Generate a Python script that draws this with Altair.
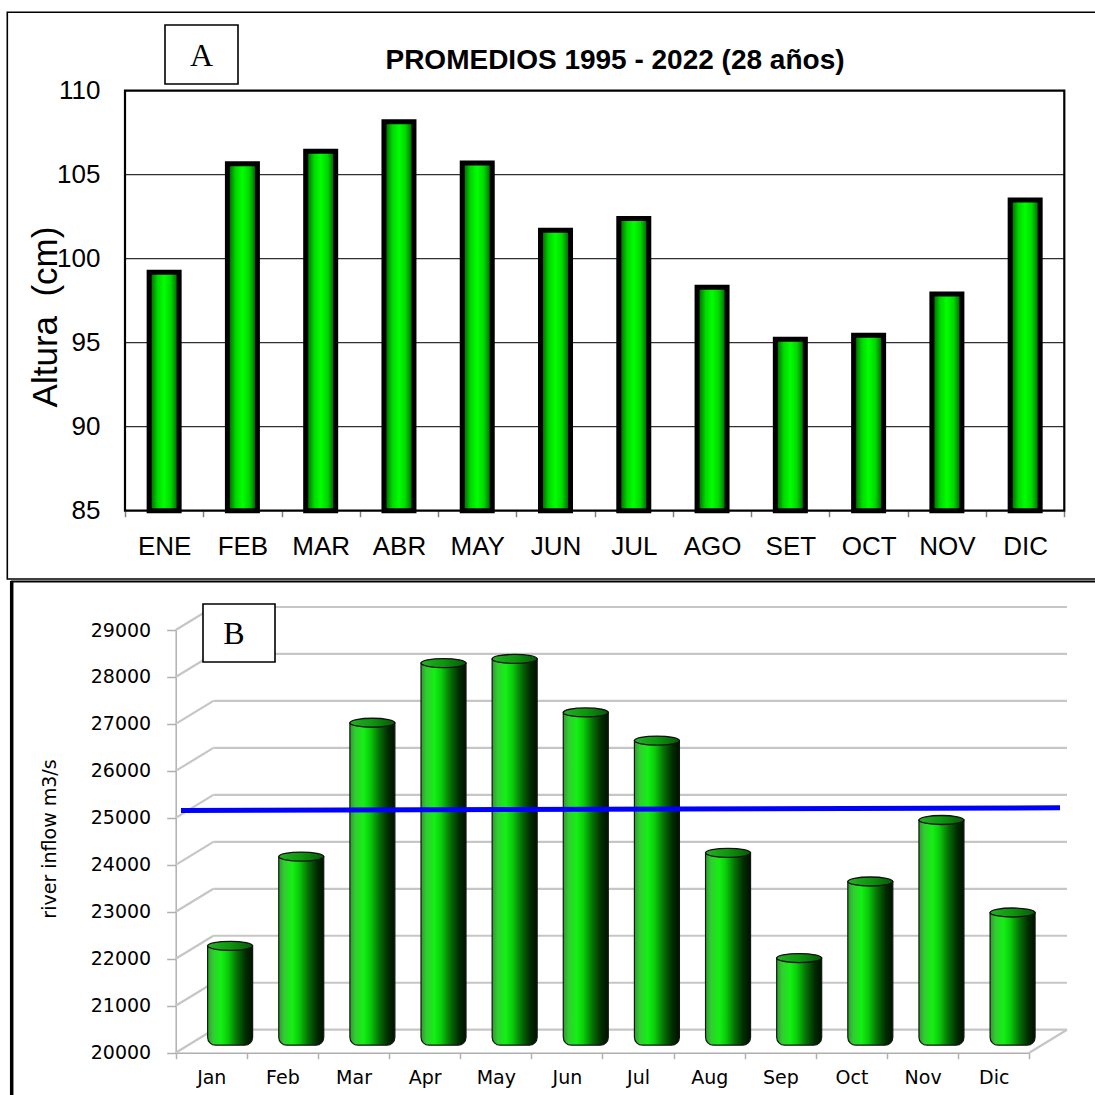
import altair as alt
import pandas as pd

# ---------------- data ----------------
meses_es = ["ENE", "FEB", "MAR", "ABR", "MAY", "JUN", "JUL", "AGO", "SET", "OCT", "NOV", "DIC"]
altura_cm = [99.2, 105.65, 106.4, 108.15, 105.7, 101.7, 102.4, 98.3, 95.2, 95.45, 97.9, 103.5]
ticks_a = [85, 90, 95, 100, 105, 110]
grid_a = [90, 95, 100, 105]

months_en = ["Jan", "Feb", "Mar", "Apr", "May", "Jun", "Jul", "Aug", "Sep", "Oct", "Nov", "Dic"]
inflow = [22030, 23930, 26780, 28050, 28140, 27000, 26400, 24010, 21770, 23400, 24710, 22740]
ticks_b = [20000, 21000, 22000, 23000, 24000, 25000, 26000, 27000, 28000, 29000]
mean_start, mean_end = [24910], [24970]

# ---------------- layout (pixels on the 1095 x 1095 canvas) ----------------
W = H = 1095
A_LEFT, A_RIGHT, A_TOP, A_BOTTOM = 125, 1064.3, 90.7, 510.7
B_LEFT, B_RIGHT, B_Y20, B_Y29 = 175.7, 1029.3, 1052.7, 630
DEPTH_X, DEPTH_Y = 37.7, -23.0  # offset of the back wall in the 3-D panel

SANS = "Liberation Sans"
SERIF = "Liberation Serif"
B_FONT = "DejaVu Sans"

# ---------------- panel A: 2-D bars ----------------
xA = alt.Scale(domain=meses_es, range=[A_LEFT, A_RIGHT], paddingInner=0, paddingOuter=0)
yA = alt.Scale(domain=[85, 110], range=[A_BOTTOM, A_TOP], nice=False, zero=False)
axA_x = alt.Axis(orient="bottom", offset=A_BOTTOM - H, title=None, labelAngle=0,
                 labelFont=SANS, labelFontSize=26, labelColor="black", labelPadding=17,
                 tickBand="extent", tickSize=6, tickColor="#808080", tickWidth=1.5,
                 domain=False, grid=False)
axA_y = alt.Axis(orient="left", offset=-A_LEFT, title=None, values=ticks_a,
                 labelFont=SANS, labelFontSize=26, labelColor="black", labelPadding=25,
                 ticks=False, domain=False, grid=False)

gradA = alt.LinearGradient(
    gradient="linear", x1=0, x2=1, y1=0, y2=0,
    stops=[alt.GradientStop(color="#004a00", offset=0),
           alt.GradientStop(color="#00d800", offset=0.28),
           alt.GradientStop(color="#00ff00", offset=0.5),
           alt.GradientStop(color="#00d800", offset=0.72),
           alt.GradientStop(color="#004a00", offset=1)])

dfA = pd.DataFrame({"mes": meses_es, "altura": altura_cm, "base": [85] * 12})
dfGridA = pd.DataFrame({"v": grid_a})

gridA = alt.Chart(dfGridA).mark_rule(color="#303030", strokeWidth=1.3).encode(
    y=alt.Y("v:Q", scale=yA, axis=axA_y),
    x=alt.value(A_LEFT), x2=alt.value(A_RIGHT))

barsA = alt.Chart(dfA).mark_bar(size=30, fill=gradA, stroke="black", strokeWidth=5).encode(
    x=alt.X("mes:N", scale=xA, axis=axA_x),
    y=alt.Y("altura:Q", scale=yA, axis=axA_y),
    y2="base:Q")

panelA = alt.layer(gridA, barsA)

# ---------------- panel B: 3-D style cylinders ----------------
xB = alt.Scale(domain=months_en, range=[B_LEFT, B_RIGHT], paddingInner=0, paddingOuter=0)
yB = alt.Scale(domain=[20000, 29000], range=[B_Y20, B_Y29], nice=False, zero=False)
axB_x = alt.Axis(orient="bottom", offset=B_Y20 - H, title=None, labelAngle=0,
                 labelFont=B_FONT, labelFontSize=19, labelColor="black", labelPadding=10,
                 tickBand="extent", tickSize=6, tickColor="#b0b0b0", tickWidth=1.5,
                 domainColor="#b0b0b0", domainWidth=1.5, grid=False)
axB_y = alt.Axis(orient="left", offset=-B_LEFT, title=None, values=ticks_b, format="d",
                 labelFont=B_FONT, labelFontSize=19, labelColor="black", labelPadding=16,
                 tickSize=9, tickColor="#b0b0b0", tickWidth=1.5,
                 domainColor="#b0b0b0", domainWidth=1.5, grid=False)

dfB = pd.DataFrame({"month": months_en, "inflow": inflow, "base": [20000] * 12})
dfTicksB = pd.DataFrame({"v": ticks_b})
dfFloor = pd.DataFrame({"v": [20000]})
dfMean = pd.DataFrame({"ini": mean_start, "fin": mean_end})

WALL = "#c6c6c6"
backWall = alt.Chart(dfTicksB).mark_rule(color=WALL, strokeWidth=2.2, yOffset=DEPTH_Y).encode(
    y=alt.Y("v:Q", scale=yB, axis=axB_y),
    x=alt.value(B_LEFT + DEPTH_X), x2=alt.value(B_RIGHT + DEPTH_X))

sideWall = alt.Chart(dfTicksB).mark_rule(color=WALL, strokeWidth=2.2, y2Offset=DEPTH_Y).encode(
    y=alt.Y("v:Q", scale=yB, axis=axB_y), y2="v:Q",
    x=alt.value(B_LEFT), x2=alt.value(B_LEFT + DEPTH_X))

floorEdge = alt.Chart(dfFloor).mark_rule(color=WALL, strokeWidth=2.2, y2Offset=DEPTH_Y).encode(
    y=alt.Y("v:Q", scale=yB, axis=axB_y), y2="v:Q",
    x=alt.value(B_RIGHT), x2=alt.value(B_RIGHT + DEPTH_X))

gradB = alt.LinearGradient(
    gradient="linear", x1=0, x2=1, y1=0, y2=0,
    stops=[alt.GradientStop(color="#2c9c2c", offset=0),
           alt.GradientStop(color="#33cc33", offset=0.12),
           alt.GradientStop(color="#14f014", offset=0.3),
           alt.GradientStop(color="#0bcc0b", offset=0.45),
           alt.GradientStop(color="#067006", offset=0.65),
           alt.GradientStop(color="#012a01", offset=0.85),
           alt.GradientStop(color="#001200", offset=1)])
gradCap = alt.LinearGradient(
    gradient="linear", x1=0, x2=1, y1=0, y2=0,
    stops=[alt.GradientStop(color="#25b025", offset=0),
           alt.GradientStop(color="#0e960e", offset=0.5),
           alt.GradientStop(color="#055a05", offset=1)])

ELLIPSE = ("M -1 0 C -1 -0.1105 -0.5523 -0.2 0 -0.2 C 0.5523 -0.2 1 -0.1105 1 0 "
           "C 1 0.1105 0.5523 0.2 0 0.2 C -0.5523 0.2 -1 0.1105 -1 0 Z")
CYL = 45

bodies = alt.Chart(dfB).mark_bar(
    size=CYL, fill=gradB, stroke="#151515", strokeWidth=1.2,
    xOffset=DEPTH_X / 2, yOffset=DEPTH_Y / 2, y2Offset=DEPTH_Y / 2 + 4,
    cornerRadiusBottomLeft=8, cornerRadiusBottomRight=8).encode(
    x=alt.X("month:N", scale=xB, axis=axB_x),
    y=alt.Y("inflow:Q", scale=yB, axis=axB_y),
    y2="base:Q")

caps = alt.Chart(dfB).mark_point(
    shape=ELLIPSE, size=CYL * CYL, filled=True, fill=gradCap, opacity=1,
    stroke="#101010", strokeWidth=1.3,
    xOffset=DEPTH_X / 2, yOffset=DEPTH_Y / 2).encode(
    x=alt.X("month:N", scale=xB, axis=axB_x),
    y=alt.Y("inflow:Q", scale=yB, axis=axB_y))

meanLine = alt.Chart(dfMean).mark_rule(
    color="#0000ff", strokeWidth=5, yOffset=DEPTH_Y / 2, y2Offset=DEPTH_Y / 2).encode(
    y=alt.Y("ini:Q", scale=yB, axis=axB_y), y2="fin:Q",
    x=alt.value(181), x2=alt.value(1060))

panelB = alt.layer(backWall, sideWall, floorEdge, bodies, caps, meanLine)

# ---------------- frames, boxes and free text ----------------
one = pd.DataFrame({"k": [0]})


def frame(x, x2, y, y2, width, fill=None):
    kw = dict(stroke="black", strokeWidth=width)
    if fill:
        kw["fill"] = fill
    else:
        kw["filled"] = False
    return alt.Chart(one).mark_rect(**kw).encode(
        x=alt.value(x), x2=alt.value(x2), y=alt.value(y), y2=alt.value(y2))


def text(t, x, y, **kw):
    return alt.Chart(pd.DataFrame({"t": [t]})).mark_text(
        baseline="middle", align="center", color="black", **kw).encode(
        x=alt.value(x), y=alt.value(y), text="t:N")


decor = [
    frame(7.3, 1110, 12.3, 579, 1.6),                    # panel A border
    frame(A_LEFT, A_RIGHT, A_TOP, A_BOTTOM, 2.2),        # panel A plot frame
    frame(11.7, 1110, 581.5, 1110, 2),                   # panel B border
    alt.Chart(one).mark_rule(color="black", strokeWidth=3.5).encode(
        x=alt.value(11.7), y=alt.value(581), y2=alt.value(H)),
    frame(165, 238, 25, 84, 1.6, fill="white"),
    text("A", 201.5, 56, font=SERIF, fontSize=32),
    text("PROMEDIOS 1995 - 2022 (28 años)", 615, 61, font=SANS, fontSize=28, fontWeight="bold"),
    text("Altura\u00a0\u00a0(cm)", 46, 317, font=SANS, fontSize=35, angle=270),
    text("river inflow m3/s", 50, 839, font=B_FONT, fontSize=19, angle=270),
]
boxB = [
    frame(203, 275, 604, 662, 1.6, fill="white"),
    text("B", 234, 634, font=SERIF, fontSize=32),
]

chart = alt.layer(
    panelA, panelB, *decor, *boxB
).resolve_scale(
    x="independent", y="independent"
).properties(
    width=W, height=H, padding=0, autosize=alt.AutoSizeParams(type="none"),
    background="white"
).configure_view(strokeWidth=0)

chart.save("out.html", embed_options={"renderer": "svg", "actions": False})
